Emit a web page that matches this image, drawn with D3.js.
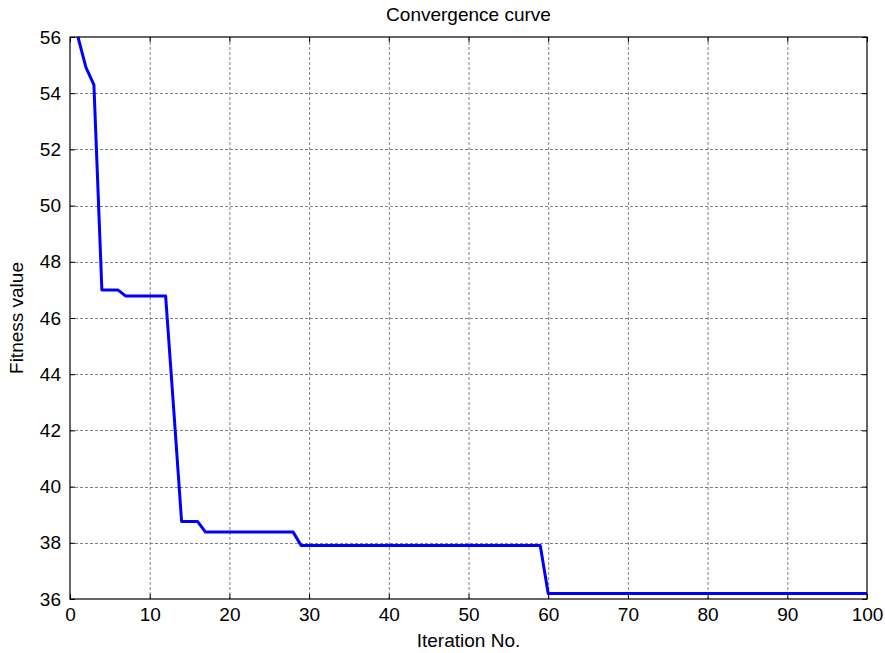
<!DOCTYPE html>
<html><head><meta charset="utf-8">
<script src="https://cdn.jsdelivr.net/npm/d3@7"></script>
<style>body{margin:0;background:#fff}svg{display:block}text{font-family:"Liberation Sans",Arial,sans-serif}</style>
</head><body>
<script>
const iterations = d3.range(1, 101);
const segIter = [1, 2, 3, 4, 6, 7, 12, 13, 14, 16, 17, 28, 29, 59, 60, 100];
const segVal  = [56.0, 54.92, 54.3, 47.0, 47.0, 46.78, 46.78, 42.8, 38.76, 38.76, 38.38, 38.38, 37.9, 37.9, 36.2, 36.2];
// step-wise fitness per iteration (values held constant between read breakpoints)
const fitness = iterations.map(it => {
  let v = segVal[0];
  for (let i = 0; i < segIter.length; i++) if (segIter[i] <= it) v = segVal[i];
  return v;
});
const xTicks = d3.range(0, 101, 10);
const yTicks = d3.range(36, 57, 2);

const W = 885, H = 653;
const m = {l: 70, r: 18, t: 37, b: 54};
const svg = d3.select("body").append("svg").attr("width", W).attr("height", H);
const x = d3.scaleLinear().domain([0, 100]).range([m.l, W - m.r]);
const y = d3.scaleLinear().domain([36, 56]).range([H - m.b, m.t]);
const x0 = m.l, x1 = W - m.r, y0 = H - m.b, y1 = m.t;

const grid = svg.append("g").attr("stroke", "#555").attr("stroke-opacity", 0.75)
  .attr("stroke-dasharray", "3,2").attr("stroke-width", 1);
xTicks.slice(1, -1).forEach(t => grid.append("line").attr("x1", x(t)+0.5).attr("x2", x(t)+0.5).attr("y1", y1).attr("y2", y0));
yTicks.slice(1, -1).forEach(t => grid.append("line").attr("y1", Math.round(y(t))+0.5).attr("y2", Math.round(y(t))+0.5).attr("x1", x0).attr("x2", x1));

const line = d3.line().x((d, i) => x(iterations[i])).y(d => y(d));
svg.append("path").datum(fitness).attr("d", line).attr("fill", "none")
  .attr("stroke", "#0000ff").attr("stroke-width", 3).attr("stroke-linejoin", "round");

// axes
const fs = "19px";
const xb = svg.append("g").attr("transform", `translate(0,${y0})`)
  .call(d3.axisBottom(x).tickValues(xTicks).tickSize(-5).tickPadding(9));
const xt = svg.append("g").attr("transform", `translate(0,${y1})`)
  .call(d3.axisTop(x).tickValues(xTicks).tickSize(-5).tickFormat(""));
const yl = svg.append("g").attr("transform", `translate(${x0},0)`)
  .call(d3.axisLeft(y).tickValues(yTicks).tickSize(-5).tickPadding(9));
const yr = svg.append("g").attr("transform", `translate(${x1},0)`)
  .call(d3.axisRight(y).tickValues(yTicks).tickSize(-5).tickFormat(""));
[xb, xt, yl, yr].forEach(g => {
  g.select(".domain").remove();
  g.selectAll("line").attr("stroke", "#000");
  g.selectAll("text").attr("font-size", fs).attr("fill", "#000").attr("font-family", '"Liberation Sans",Arial,sans-serif');
});
svg.append("rect").attr("x", x0).attr("y", y1).attr("width", x1 - x0).attr("height", y0 - y1)
  .attr("fill", "none").attr("stroke", "#000").attr("stroke-width", 1.2);

svg.append("text").attr("x", (x0 + x1) / 2).attr("y", 21).attr("text-anchor", "middle")
  .attr("font-size", fs).text("Convergence curve");
svg.append("text").attr("x", (x0 + x1) / 2).attr("y", 647).attr("text-anchor", "middle")
  .attr("font-size", fs).text("Iteration No.");
svg.append("text").attr("transform", `translate(23,${(y0 + y1) / 2}) rotate(-90)`).attr("text-anchor", "middle")
  .attr("font-size", fs).text("Fitness value");
</script>
</body></html>
